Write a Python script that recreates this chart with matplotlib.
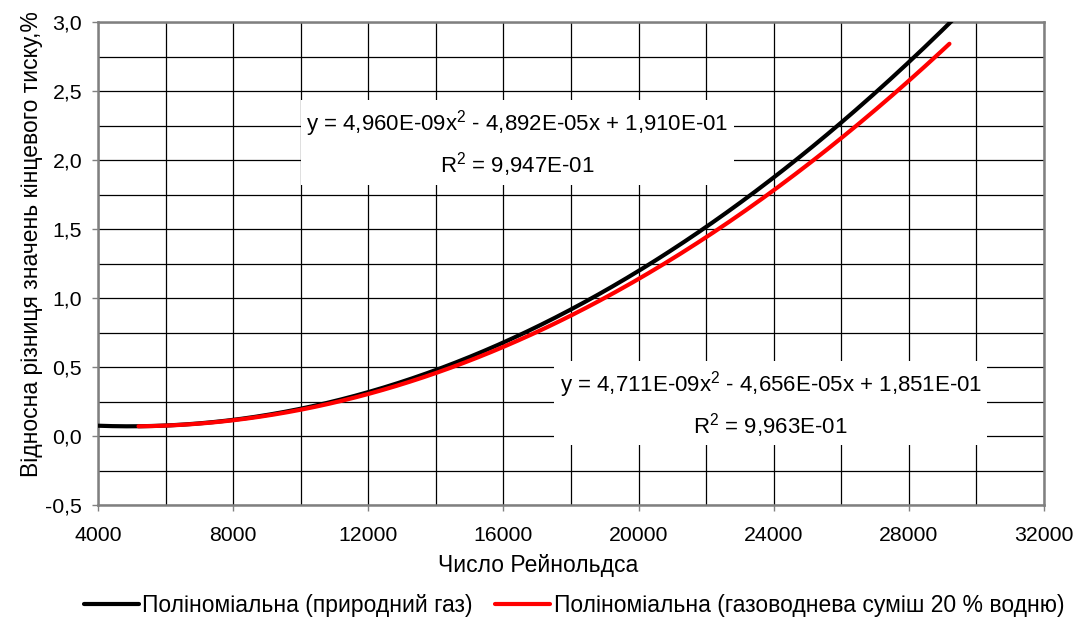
import numpy as np
import matplotlib
matplotlib.use("Agg")
import matplotlib.pyplot as plt
from matplotlib.ticker import MultipleLocator, FuncFormatter

plt.rcParams['font.family'] = ['Liberation Sans', 'DejaVu Sans']
plt.rcParams['mathtext.default'] = 'regular'

# trendline coefficients (a, b, c) for y = a*x^2 + b*x + c
gas_coef = [4.960e-09, -4.892e-05, 1.910e-01]
mix_coef = [4.711e-09, -4.656e-05, 1.851e-01]
gas_r2 = "9,947E-01"
mix_r2 = "9,963E-01"
# Reynolds number range covered by each trendline
gas_range = [4000, 29300]
mix_range = [5200, 29200]

gas_label = "Поліноміальна (природний газ)"
mix_label = "Поліноміальна (газоводнева суміш 20 % водню)"

x_gas = np.linspace(gas_range[0], gas_range[1], 300)
x_mix = np.linspace(mix_range[0], mix_range[1], 300)

fig = plt.figure(figsize=(10.78, 6.17), dpi=100)
ax = fig.add_axes([0.0909, 0.1815, 0.8776, 0.7828])

ax.plot(x_gas, np.polyval(gas_coef, x_gas), color='black', lw=3,
        solid_capstyle='round', label=gas_label, zorder=3)
ax.plot(x_mix, np.polyval(mix_coef, x_mix), color='#ff0000', lw=3,
        solid_capstyle='round', label=mix_label, zorder=4)

ax.set_xlim(4000, 32000)
ax.set_ylim(-0.5, 3.0)
ax.xaxis.set_major_locator(MultipleLocator(4000))
ax.xaxis.set_minor_locator(MultipleLocator(2000))
ax.yaxis.set_major_locator(MultipleLocator(0.5))
ax.yaxis.set_minor_locator(MultipleLocator(0.25))
ax.yaxis.set_major_formatter(FuncFormatter(lambda v, p: f"{v:.1f}".replace('.', ',')))
ax.grid(True, which='both', color='black', lw=0.9, zorder=0)
ax.set_axisbelow(True)
ax.tick_params(which='major', labelsize=15.3, length=4, width=1, color='#808080')
ax.tick_params(axis='x', which='major', pad=11)
ax.tick_params(axis='y', which='major', pad=7.5)
ax.tick_params(which='minor', length=0)
for s in ax.spines.values():
    s.set_color('#808080')
    s.set_linewidth(1.8)

ax.set_xlabel("Число Рейнольдса", fontsize=16.5)
ax.set_ylabel("Відносна різниця значень кінцевого тиску,%", fontsize=16.5)
ax.xaxis.set_label_coords(0.465, -0.102)
ax.yaxis.set_label_coords(-0.058, 0.54)


def eq_text(coef, r2):
    def num(v):
        return f"{abs(v):.3E}".replace('.', ',')
    a, b, c = coef
    sb = '-' if b < 0 else '+'
    sc = '-' if c < 0 else '+'
    return (f"y = {num(a)}x$^{{2}}$ {sb} {num(b)}x {sc} {num(c)}\n"
            f"R$^{{2}}$ = {r2}")


box = dict(facecolor='white', edgecolor='none', pad=4)
ax.text(16420, 2.12, eq_text(gas_coef, gas_r2), ha='center', va='center',
        fontsize=16, linespacing=1.5, bbox=box, zorder=5)
ax.text(23910, 0.23, eq_text(mix_coef, mix_r2), ha='center', va='center',
        fontsize=16, linespacing=1.5, bbox=box, zorder=5)

fig.legend(loc='center', bbox_to_anchor=(0.5325, 0.018), ncol=2,
           frameon=False, handlelength=2.4, handletextpad=0.15, columnspacing=1.0,
           borderpad=0.2, prop={'size': 16.5})

fig.savefig("out.png", dpi=100)
